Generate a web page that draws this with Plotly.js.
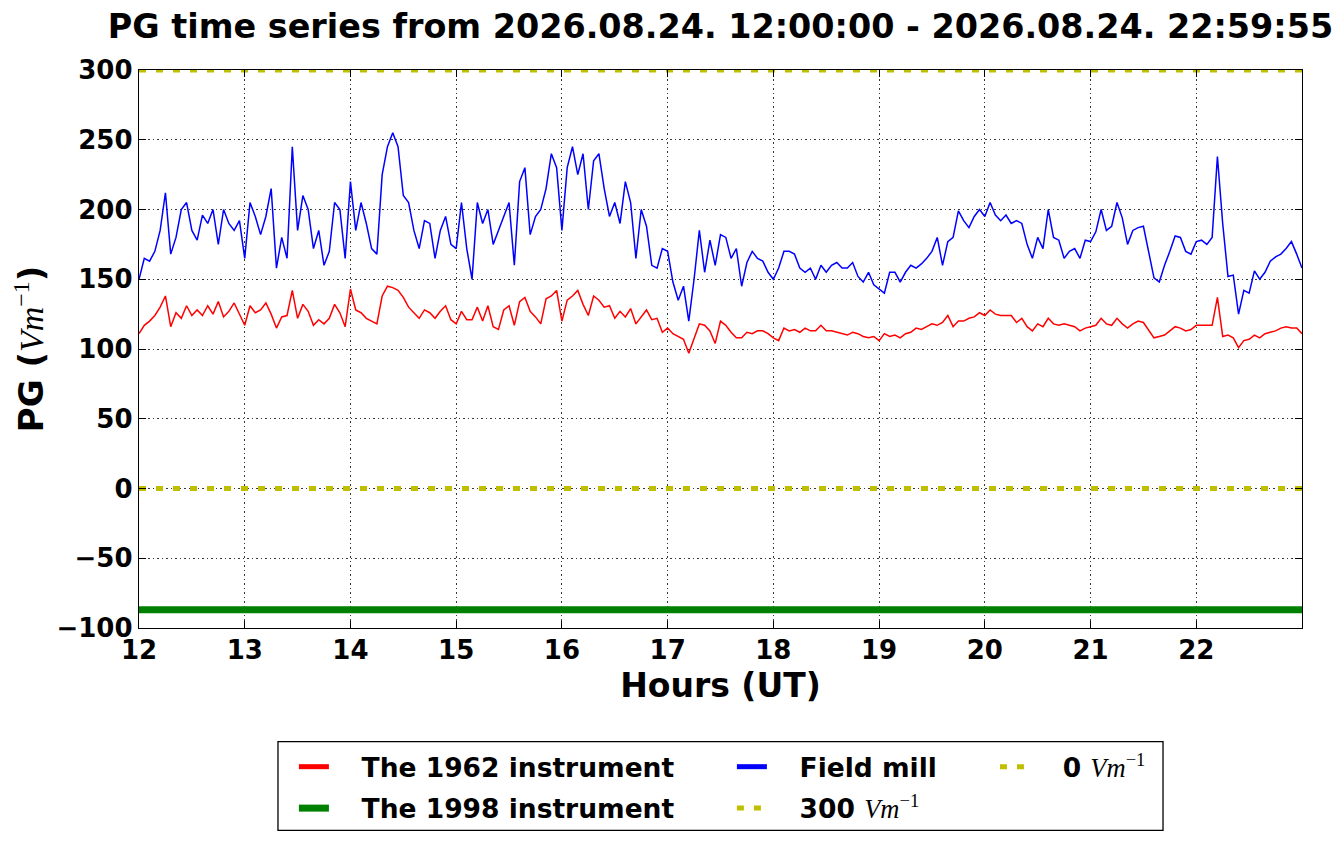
<!DOCTYPE html>
<html><head><meta charset="utf-8">
<script src="https://cdn.plot.ly/plotly-3.0.1.min.js"></script>
<style>html,body{margin:0;padding:0;background:#fff}#chart{width:1341px;height:844px}</style>
</head><body><div id="chart"></div>
<script>
// ---- data ----
const startHour = 12;
const sampleMinutes = 3;
const hourTicks = [12, 13, 14, 15, 16, 17, 18, 19, 20, 21, 22];
const pgTicks = [-100, -50, 0, 50, 100, 150, 200, 250, 300];

// Field mill PG (V/m), one value every 3 minutes from 12:00
const fieldMill = [
  150,165,163,170,185,212,168,180,200,205,185,178,196,190,200,175,200,190,185,192,
  165,205,195,182,195,215,158,180,165,245,185,210,200,172,185,160,170,205,200,165,
  220,185,205,190,
  172,168,225,245,255,245,210,205,185,172,192,190,165,185,195,175,172,205,172,150,
  205,190,200,175,185,195,205,160,220,230,182,195,200,215,240,230,185,230,245,225,
  240,200,235,240,
  215,195,205,190,220,205,165,200,188,160,158,172,170,148,135,145,120,150,185,155,
  178,160,182,180,165,172,145,162,170,165,163,155,150,158,170,170,168,158,155,158,
  150,160,155,160,
  162,158,158,162,152,148,155,146,143,140,155,155,148,155,160,158,161,165,170,180,
  160,177,180,199,192,187,195,200,195,205,196,192,196,190,192,190,175,165,180,172,
  200,180,178,165,
  170,172,165,178,177,184,200,185,188,205,194,175,185,187,188,170,151,148,160,170,
  181,180,170,168,177,178,175,180,238,190,152,153,125,142,140,156,150,155,163,166,
  168,172,177,168,158
];

// The 1962 instrument PG (V/m), same sampling
const instr1962 = [
  111,117,120,124,130,138,116,126,122,131,124,128,124,131,125,134,123,127,133,125,
  117,131,126,128,133,125,115,123,124,142,122,132,127,117,121,118,122,132,126,116,
  143,128,126,122,
  120,118,138,145,144,142,137,130,126,122,128,126,122,127,131,121,118,127,121,121,
  130,120,131,116,114,128,131,117,134,137,127,123,118,136,138,142,120,135,138,142,
  132,124,138,135,
  130,131,122,127,123,129,118,123,128,121,122,112,115,111,109,107,97,108,118,117,
  113,104,120,117,112,108,108,112,111,113,113,111,108,106,115,113,114,112,115,113,
  113,117,113,113,
  112,111,110,112,111,109,108,109,106,111,109,110,108,111,112,115,114,116,118,117,
  119,124,116,120,120,122,123,126,124,128,125,124,124,124,119,122,116,113,118,116,
  122,118,117,118,
  117,116,113,115,116,117,122,118,117,122,118,115,118,120,119,113,108,109,110,113,
  116,115,113,114,117,117,117,117,137,109,110,108,101,106,107,110,108,111,112,113,
  115,116,115,115,111
];

// The 1998 instrument (flat level)
const instr1998Hours = [12, 23];
const instr1998 = [-87, -87];

// Reference levels
const refHours = [12, 23];
const refLevels = [300, 0];

// ---- build ----
const hours = fieldMill.map((_, i) => startHour + i * sampleMinutes / 60);

const F = 'DejaVu Sans';
const MATH = '<span style="font-family:Liberation Serif;font-weight:normal"><i>Vm</i><sup>\u22121</sup></span>';
const PAD = '\u00a0\u00a0\u00a0';
const yellow = '#bfbf00';
const dotDash = '7px,10px';

const traces = [
  {x: hours, y: instr1962, type: 'scatter', mode: 'lines', line: {color: '#ff0000', width: 1.5}, showlegend: false, hoverinfo: 'skip'},
  {x: hours, y: fieldMill, type: 'scatter', mode: 'lines', line: {color: '#0000ff', width: 1.5}, showlegend: false, hoverinfo: 'skip'},
  // legend entries (thick samples as in the reference legend)
  {x: [null], y: [null], type: 'scatter', mode: 'lines', name: PAD + 'The 1962 instrument', legendgroup: 'a', line: {color: '#ff0000', width: 5}, legend: 'legend'},
  {x: instr1998Hours, y: instr1998, type: 'scatter', mode: 'lines', name: PAD + 'The 1998 instrument', legendgroup: 'b', line: {color: '#008000', width: 7}, legend: 'legend'},
  {x: [null], y: [null], type: 'scatter', mode: 'lines', name: PAD + 'Field mill', legendgroup: 'c', line: {color: '#0000ff', width: 5}, legend: 'legend2'},
  {x: refHours, y: [refLevels[0], refLevels[0]], type: 'scatter', mode: 'lines', name: PAD + refLevels[0] + ' ' + MATH, legendgroup: 'd', line: {color: yellow, width: 5, dash: dotDash}, legend: 'legend2'},
  {x: refHours, y: [refLevels[1], refLevels[1]], type: 'scatter', mode: 'lines', name: PAD + refLevels[1] + ' ' + MATH, legendgroup: 'e', line: {color: yellow, width: 5, dash: dotDash}, legend: 'legend3'}
];

const tickFont = {family: F, size: 26, weight: 'bold', color: '#000'};
const legFont = {family: F, size: 26.5, weight: 'bold', color: '#000'};
const axisCommon = {
  showline: true, linecolor: '#000', linewidth: 1.3, mirror: 'ticks',
  ticks: 'inside', ticklen: 7, tickwidth: 1, tickcolor: '#000',
  showgrid: true, gridcolor: '#222', griddash: '1.5px,3px', gridwidth: 0.9,
  zeroline: false, tickfont: tickFont, automargin: false
};
const legCommon = {orientation: 'v', xanchor: 'left', yanchor: 'top', bgcolor: 'rgba(0,0,0,0)', borderwidth: 0, font: legFont, traceorder: 'grouped', tracegroupgap: 4};

const layout = {
  width: 1341, height: 844,
  paper_bgcolor: '#fff', plot_bgcolor: '#fff',
  margin: {l: 139, r: 39, t: 70, b: 214, pad: 0},
  title: {text: 'PG time series from 2026.08.24. 12:00:00 - 2026.08.24. 22:59:55', font: {family: F, size: 33.4, weight: 'bold', color: '#000'},
          x: 0.5, xref: 'paper', xanchor: 'center', y: 0.969, yref: 'container', yanchor: 'middle'},
  xaxis: Object.assign({}, axisCommon, {range: [12, 23], tickvals: hourTicks, ticktext: hourTicks.map(String), ticklabelstandoff: -2,
          title: {text: 'Hours (UT)', standoff: 10, font: {family: F, size: 33, weight: 'bold', color: '#000'}}}),
  yaxis: Object.assign({}, axisCommon, {range: [-100, 300], tickvals: pgTicks,
          title: {text: 'PG (' + MATH + ')', standoff: 2, font: {family: F, size: 34, weight: 'bold', color: '#000'}}}),
  legend: Object.assign({}, legCommon, {x: 0.1332, y: -0.206}),
  legend2: Object.assign({}, legCommon, {x: 0.5098, y: -0.206}),
  legend3: Object.assign({}, legCommon, {x: 0.7360, y: -0.206}),
  shapes: [{type: 'rect', xref: 'paper', yref: 'paper', x0: 0.1195, x1: 0.8805, y0: -0.3625, y1: -0.2036, line: {color: '#000', width: 1.3}, fillcolor: 'rgba(0,0,0,0)'}],
  showlegend: true
};

Plotly.newPlot('chart', traces, layout, {staticPlot: true, displayModeBar: false});
</script>
</body></html>
